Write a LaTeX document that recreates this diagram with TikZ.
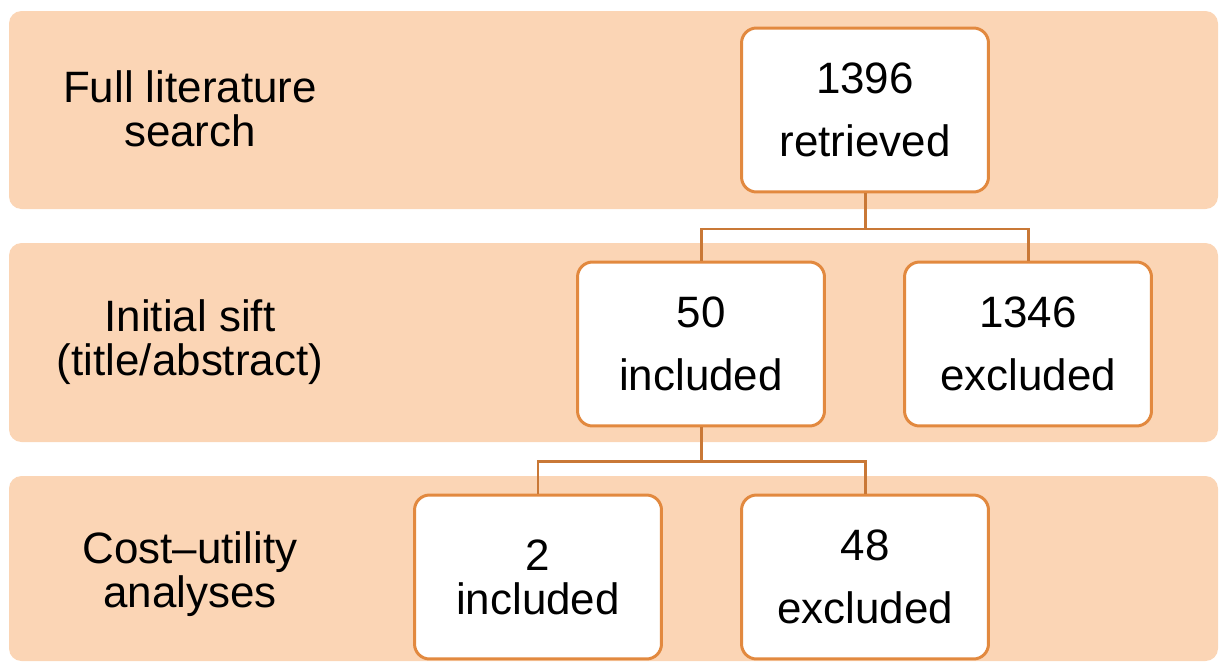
\documentclass[tikz,border=0pt]{standalone}
\usepackage{fontspec}
\setmainfont{Liberation Sans}
\definecolor{bandfill}{HTML}{FBD5B5}
\definecolor{boxline}{HTML}{E2893F}
\definecolor{linkline}{HTML}{C97836}

\begin{document}
\begin{tikzpicture}[x=0.02cm,y=-0.02cm,
    band/.style={fill=bandfill,rounded corners=0.25cm},
    countbox/.style={draw=boxline,fill=white,line width=1.7pt,rounded corners=0.3cm,
        minimum width=4.94cm,minimum height=3.28cm,align=center,
        font=\fontsize{25}{25}\selectfont},
    stage/.style={align=center,font=\fontsize{25}{25}\selectfont},
    link/.style={draw=linkline,line width=1.7pt}]
            \clip (0,0) rectangle (1224,663);

            \fill[band] (9,11) rectangle (1218,209);
            \fill[band] (9,243) rectangle (1218,442);
            \fill[band] (9,476) rectangle (1218,661);

            \node[stage] (full) at (190,109) {Full literature\\search};
            \node[stage] (sift) at (190,342) {Initial sift\\(title/abstract)};
            \node[stage] (cua) at (190,574) {Cost--utility\\analyses};

            \coordinate (split1) at (865,229);
            \coordinate (split2) at (701,461);

            \node[countbox] (retr) at (865,110) {1396\\[10.5pt]retrieved};
            \node[countbox] (inc1) at (701,344) {50\\[10.5pt]included};
            \node[countbox] (exc1) at (1028,344) {1346\\[10.5pt]excluded};
            \node[countbox] (inc2) at (538,577) {2\\included};
            \node[countbox] (exc2) at (865,577) {48\\[10.5pt]excluded};

            \draw[link] (retr.south) -- (split1);
            \draw[link] (inc1.north) |- (split1) -| (exc1.north);
            \draw[link] (inc1.south) -- (split2);
            \draw[link] (inc2.north) |- (split2) -| (exc2.north);

        \end{tikzpicture}
\end{document}
